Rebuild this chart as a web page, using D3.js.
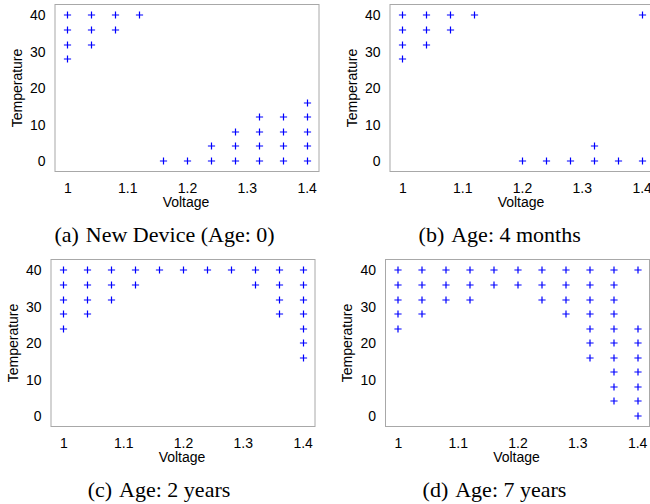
<!DOCTYPE html>
<html>
<head>
<meta charset="utf-8">
<script src="https://cdn.jsdelivr.net/npm/d3@7"></script>
<style>
  html, body { margin: 0; padding: 0; background: #fff; }
  svg { display: block; }
</style>
</head>
<body>
<svg id="chart" width="650" height="504"></svg>
<script>
// ---------- data ----------
const voltages = [1.00, 1.04, 1.08, 1.12, 1.16, 1.20, 1.24, 1.28, 1.32, 1.36, 1.40];
// temperatures at which a point is marked, one list per voltage above
const tempsNew = [
  [28, 32, 36, 40], [32, 36, 40], [36, 40], [40], [0], [0],
  [0, 4], [0, 4, 8], [0, 4, 8, 12], [0, 4, 8, 12], [0, 4, 8, 12, 16]
];
const temps4Months = [
  [28, 32, 36, 40], [32, 36, 40], [36, 40], [40], [], [0],
  [0], [0], [0, 4], [0], [0, 40]
];
const temps2Years = [
  [24, 28, 32, 36, 40], [28, 32, 36, 40], [32, 36, 40], [36, 40], [40], [40],
  [40], [40], [36, 40], [28, 32, 36, 40], [16, 20, 24, 28, 32, 36, 40]
];
const temps7Years = [
  [24, 28, 32, 36, 40], [28, 32, 36, 40], [32, 36, 40], [32, 36, 40], [36, 40], [36, 40],
  [32, 36, 40], [28, 32, 36, 40], [16, 20, 24, 28, 32, 36, 40],
  [4, 8, 12, 16, 20, 24, 28, 32, 36, 40], [0, 4, 8, 12, 16, 20, 24, 40]
];
const xTicks = [1, 1.1, 1.2, 1.3, 1.4];
const xTickLabels = ["1", "1.1", "1.2", "1.3", "1.4"];
const yTicks = [0, 10, 20, 30, 40];
const yTickLabels = ["0", "10", "20", "30", "40"];
const captionTags = ["(a)", "(b)", "(c)", "(d)"];
const captionTexts = ["New Device (Age: 0)", "Age: 4 months", "Age: 2 years", "Age: 7 years"];
const xTitle = "Voltage";
const yTitle = "Temperature";

// ---------- layout ----------
const panelW = 264, panelH = 167;
const layout = [
  { left: 55, top: 4.5, capX: 164.5, capY: 242 },
  { left: 390, top: 4.5, capX: 499.7, capY: 242 },
  { left: 51, top: 259.5, capX: 159, capY: 497 },
  { left: 385.5, top: 259.5, capX: 494.5, capY: 497 }
];
const series = [tempsNew, temps4Months, temps2Years, temps7Years];

const svg = d3.select("#chart");
const sansFont = "'Liberation Sans', Arial, Helvetica, sans-serif";
const serifFont = "'Liberation Serif', 'Times New Roman', serif";

const x = d3.scaleLinear().domain([0.9793, 1.4207]).range([0, panelW]);
const y = d3.scaleLinear().domain([-3.02, 42.86]).range([panelH, 0]);

series.forEach((temps, i) => {
  const L = layout[i];
  const g = svg.append("g").attr("transform", `translate(${L.left},${L.top})`);

  // points
  const pts = [];
  temps.forEach((list, vi) => list.forEach(t => pts.push({ v: voltages[vi], t })));
  const sym = d3.symbol().type(d3.symbolCross).size(1);
  const arm = 3.6;
  const pg = g.append("g");
  pts.forEach(p => {
    const cx = Math.round(x(p.v)) + 0.5, cy = Math.round(y(p.t)) + 0.5;
    pg.append("path")
      .attr("d", `M${cx - arm},${cy}H${cx + arm}M${cx},${cy - arm}V${cy + arm}`)
      .attr("stroke", "#0000ff")
      .attr("stroke-width", 1.2)
      .attr("fill", "none");
  });

  // frame
  g.append("rect")
    .attr("x", 0).attr("y", 0)
    .attr("width", panelW).attr("height", panelH)
    .attr("fill", "none")
    .attr("stroke", "#a8a8a8")
    .attr("stroke-width", 1);

  // x axis labels (no tick marks)
  const xAxis = d3.axisBottom(x).tickValues(xTicks)
    .tickFormat((d, k) => xTickLabels[k]).tickSize(0).tickPadding(0);
  const xa = g.append("g").attr("transform", `translate(0,${panelH})`).call(xAxis);
  xa.select(".domain").remove();
  xa.selectAll("text")
    .attr("dy", null).attr("y", 21)
    .attr("font-family", sansFont).attr("font-size", 14).attr("fill", "#000");

  const yAxis = d3.axisLeft(y).tickValues(yTicks)
    .tickFormat((d, k) => yTickLabels[k]).tickSize(0).tickPadding(0);
  const ya = g.append("g").call(yAxis);
  ya.select(".domain").remove();
  ya.selectAll("text")
    .attr("x", -9.5).attr("dy", "0.36em")
    .attr("font-family", sansFont).attr("font-size", 14).attr("fill", "#000");

  // titles
  g.append("text")
    .attr("x", panelW / 2 - 1).attr("y", panelH + 35)
    .attr("text-anchor", "middle")
    .attr("font-family", sansFont).attr("font-size", 14)
    .text(xTitle);
  g.append("text")
    .attr("transform", `translate(-33.5,${panelH / 2}) rotate(-90)`)
    .attr("text-anchor", "middle")
    .attr("font-family", sansFont).attr("font-size", 14)
    .text(yTitle);

  // caption
  const cap = svg.append("text")
    .attr("x", L.capX).attr("y", L.capY)
    .attr("text-anchor", "middle")
    .attr("font-family", serifFont).attr("font-size", 22).attr("fill", "#000");
  cap.append("tspan").text(captionTags[i]);
  cap.append("tspan").attr("dx", 7).text(captionTexts[i]);
});
</script>
</body>
</html>
